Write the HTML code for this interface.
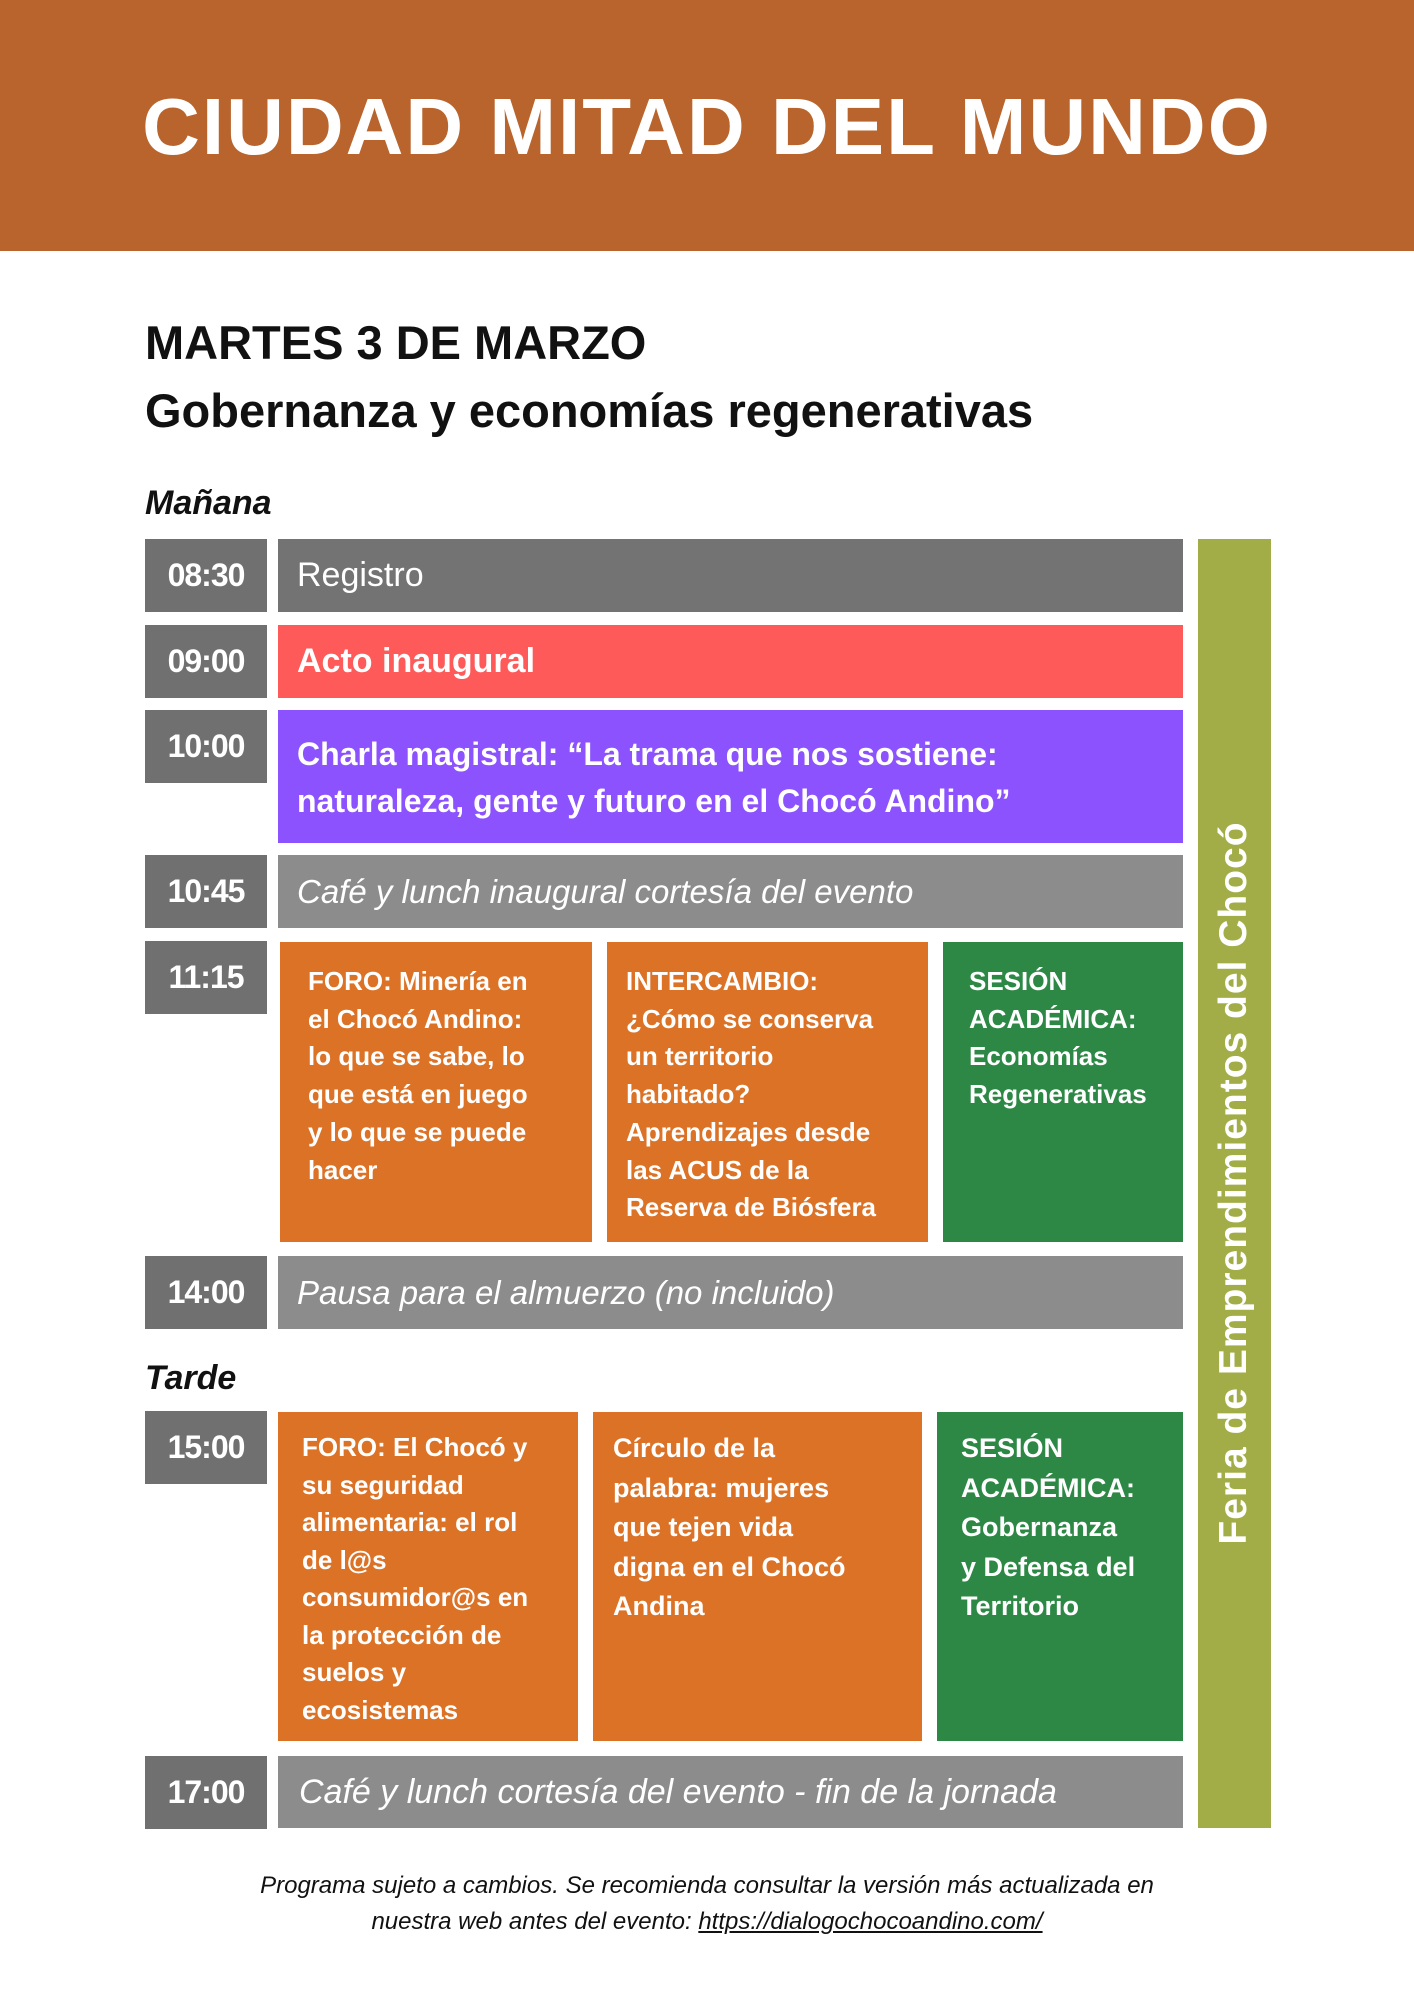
<!DOCTYPE html>
<html><head><meta charset="utf-8"><style>
*{margin:0;padding:0;box-sizing:border-box}
body{width:1414px;height:2000px;background:#fff;position:relative;overflow:hidden;font-family:"Liberation Sans",sans-serif;color:#fff}
.a{position:absolute}
.hdr{left:0;top:0;width:1414px;height:251px;background:#B8642C}
.title{left:0;width:1414px;top:82px;text-align:center;font-size:80px;font-weight:bold;letter-spacing:2px;line-height:90px}
.blk{color:#111;font-weight:bold;left:145px}
.t{background:#707070;left:145px;width:122px;height:73px;font-size:32px;font-weight:bold;text-align:center;line-height:73px;letter-spacing:-1px}
.row{left:278px;width:905px;height:73px;font-size:34px;line-height:73px;padding-left:19px}
.card{font-size:26px;font-weight:bold;line-height:37.7px;padding:21px 0 0 28px}
.card2{font-size:27px;font-weight:bold;line-height:39.5px;padding:17px 0 0 24px}
.or{background:#DB7226}.gr{background:#2D8845}
</style></head><body>
<div class="a hdr"></div>
<div class="a title">CIUDAD MITAD DEL MUNDO</div>
<div class="a blk" style="top:315px;font-size:47px;line-height:56px">MARTES 3 DE MARZO</div>
<div class="a blk" style="top:383px;font-size:47px;line-height:56px">Gobernanza y economías regenerativas</div>
<div class="a blk" style="top:483px;font-size:34px;font-style:italic;line-height:40px">Mañana</div>

<div class="a" style="left:1198px;top:539px;width:73px;height:1289px;background:#A2AD47"></div>
<div class="a" style="left:1234px;top:1183px;width:0;height:0"><div style="position:absolute;left:-600px;top:-25px;width:1200px;height:50px;text-align:center;font-size:39px;font-weight:bold;line-height:50px;transform:rotate(-90deg);letter-spacing:1px">Feria de Emprendimientos del Chocó</div></div>

<div class="a t" style="top:539px">08:30</div>
<div class="a row" style="top:539px;background:#737373">Registro</div>
<div class="a t" style="top:625px">09:00</div>
<div class="a row" style="top:625px;background:#FF5A5A;font-weight:bold">Acto inaugural</div>
<div class="a t" style="top:710px">10:00</div>
<div class="a row" style="top:710px;height:133px;background:#8B52FD;font-weight:bold;font-size:32px;line-height:47px;padding-top:21px">Charla magistral: “La trama que nos sostiene:<br>naturaleza, gente y futuro en el Chocó Andino”</div>
<div class="a t" style="top:855px">10:45</div>
<div class="a row" style="top:855px;background:#8C8C8C;font-style:italic;font-size:33px">Café y lunch inaugural cortesía del evento</div>

<div class="a t" style="top:941px">11:15</div>
<div class="a card or" style="left:280px;top:942px;width:312px;height:300px">FORO: Minería en<br>el Chocó Andino:<br>lo que se sabe, lo<br>que está en juego<br>y lo que se puede<br>hacer</div>
<div class="a card or" style="left:607px;top:942px;width:321px;height:300px;padding-left:19px">INTERCAMBIO:<br>¿Cómo se conserva<br>un territorio<br>habitado?<br>Aprendizajes desde<br>las ACUS de la<br>Reserva de Biósfera</div>
<div class="a card gr" style="left:943px;top:942px;width:240px;height:300px;padding-left:26px">SESIÓN<br>ACADÉMICA:<br>Economías<br>Regenerativas</div>

<div class="a t" style="top:1256px">14:00</div>
<div class="a row" style="top:1256px;background:#8C8C8C;font-style:italic;font-size:33px">Pausa para el almuerzo (no incluido)</div>

<div class="a blk" style="top:1358px;font-size:34px;font-style:italic;line-height:40px">Tarde</div>

<div class="a t" style="top:1411px">15:00</div>
<div class="a card or" style="left:278px;top:1412px;width:300px;height:329px;padding-left:24px;padding-top:17px;line-height:37.5px">FORO: El Chocó y<br>su seguridad<br>alimentaria: el rol<br>de l@s<br>consumidor@s en<br>la protección de<br>suelos y<br>ecosistemas</div>
<div class="a card2 or" style="left:593px;top:1412px;width:329px;height:329px;padding-left:20px">Círculo de la<br>palabra: mujeres<br>que tejen vida<br>digna en el Chocó<br>Andina</div>
<div class="a card2 gr" style="left:937px;top:1412px;width:246px;height:329px">SESIÓN<br>ACADÉMICA:<br>Gobernanza<br>y Defensa del<br>Territorio</div>

<div class="a t" style="top:1756px">17:00</div>
<div class="a row" style="top:1756px;height:72px;background:#8C8C8C;font-style:italic;font-size:34px;padding-left:21px">Café y lunch cortesía del evento - fin de la jornada</div>

<div class="a" style="left:0;width:1414px;top:1868px;text-align:center;color:#111;font-style:italic;font-size:24px;line-height:36px">Programa sujeto a cambios. Se recomienda consultar la versión más actualizada en<br>nuestra web antes del evento: <span style="text-decoration:underline">https://dialogochocoandino.com/</span></div>
</body></html>
